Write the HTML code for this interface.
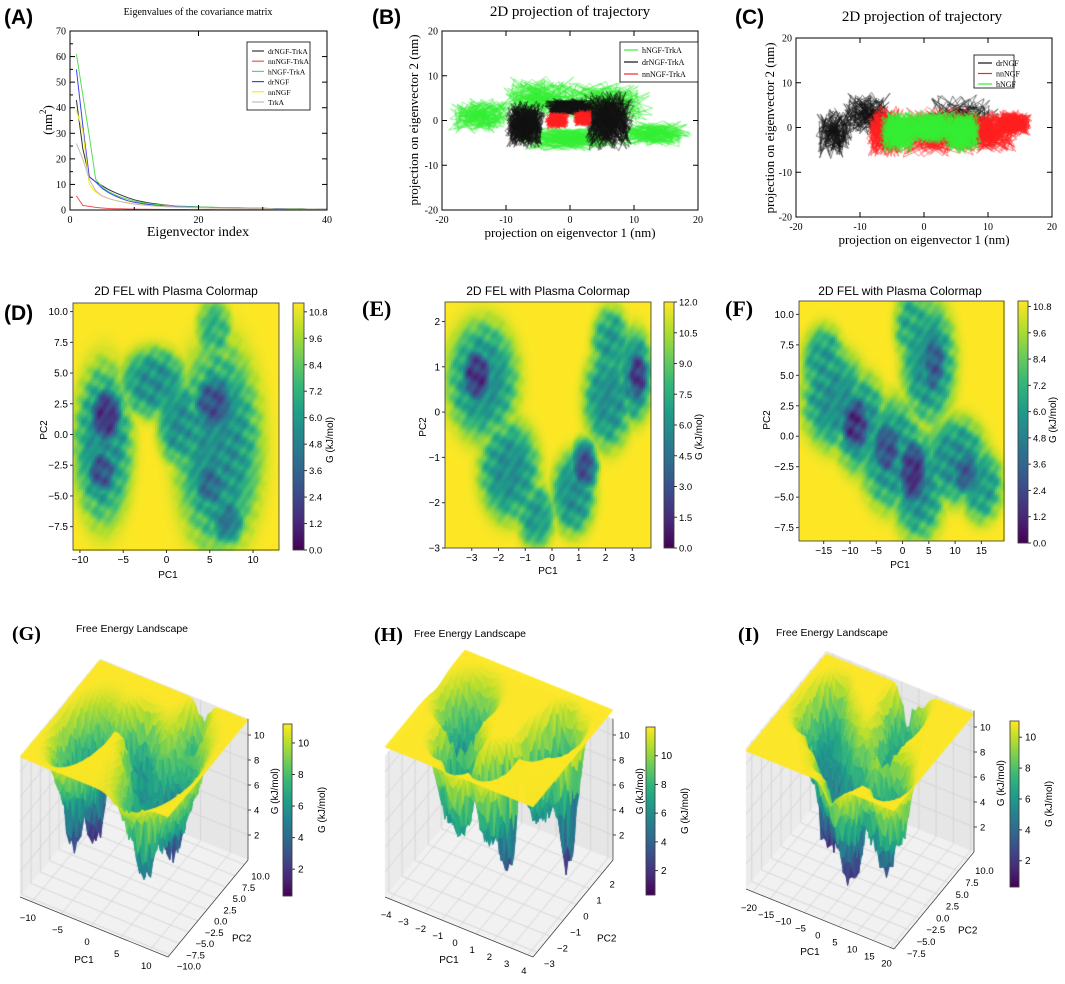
<!DOCTYPE html>
<html><head><meta charset="utf-8">
<style>
body{margin:0;background:#fff;width:1065px;height:984px;overflow:hidden;position:relative;font-family:"Liberation Sans",sans-serif}
canvas,svg{position:absolute;left:0;top:0}
.ser{font-family:"Liberation Serif",serif}
.lbl{font-weight:bold}
</style></head>
<body>
<canvas id="cv" width="1065" height="984"></canvas>
<svg id="sv" width="1065" height="984" xmlns="http://www.w3.org/2000/svg">
<text x="4" y="24" font-size="21" class="lbl">(A)</text>
<text x="372" y="24" font-size="21" class="lbl">(B)</text>
<text x="735" y="24" font-size="21" class="lbl">(C)</text>
<text x="4" y="320" font-size="21" class="lbl">(D)</text>
<text x="362" y="316" font-size="22" class="lbl ser">(E)</text>
<text x="725" y="316" font-size="22" class="lbl ser">(F)</text>
<text x="12" y="640" font-size="20" class="lbl ser">(G)</text>
<text x="374" y="641" font-size="20" class="lbl ser">(H)</text>
<text x="738" y="641" font-size="20" class="lbl ser">(I)</text>
<text x="198" y="15" font-size="10" text-anchor="middle" class="ser">Eigenvalues of the covariance matrix</text>
<text x="198" y="236" font-size="14" text-anchor="middle" class="ser">Eigenvector index</text>
<text x="0" y="0" font-size="13" text-anchor="middle" class="ser" transform="translate(52,120) rotate(-90)">(nm<tspan dy="-6" font-size="9">2</tspan><tspan dy="6">)</tspan></text>
<text x="570" y="16" font-size="15" text-anchor="middle" class="ser">2D projection of trajectory</text>
<text x="570" y="237" font-size="13" text-anchor="middle" class="ser">projection on eigenvector 1 (nm)</text>
<text x="0" y="0" font-size="13" text-anchor="middle" class="ser" transform="translate(418,120) rotate(-90)">projection on eigenvector 2 (nm)</text>
<text x="922" y="21" font-size="15" text-anchor="middle" class="ser">2D projection of trajectory</text>
<text x="924" y="244" font-size="13" text-anchor="middle" class="ser">projection on eigenvector 1 (nm)</text>
<text x="0" y="0" font-size="13" text-anchor="middle" class="ser" transform="translate(774,128) rotate(-90)">projection on eigenvector 2 (nm)</text>
<text x="176" y="295" font-size="12" text-anchor="middle">2D FEL with Plasma Colormap</text>
<text x="548" y="295" font-size="12" text-anchor="middle">2D FEL with Plasma Colormap</text>
<text x="900" y="295" font-size="12" text-anchor="middle">2D FEL with Plasma Colormap</text>
<text x="168" y="578" font-size="10" text-anchor="middle">PC1</text>
<text x="548" y="574" font-size="10" text-anchor="middle">PC1</text>
<text x="900" y="568" font-size="10" text-anchor="middle">PC1</text>
<text x="0" y="0" font-size="10" text-anchor="middle" transform="translate(47,430) rotate(-90)">PC2</text>
<text x="0" y="0" font-size="10" text-anchor="middle" transform="translate(426,427) rotate(-90)">PC2</text>
<text x="0" y="0" font-size="10" text-anchor="middle" transform="translate(770,420) rotate(-90)">PC2</text>
<text x="0" y="0" font-size="10" text-anchor="middle" transform="translate(333,440) rotate(-90)">G (kJ/mol)</text>
<text x="0" y="0" font-size="10" text-anchor="middle" transform="translate(702,437) rotate(-90)">G (kJ/mol)</text>
<text x="0" y="0" font-size="10" text-anchor="middle" transform="translate(1056,420) rotate(-90)">G (kJ/mol)</text>
<text x="132" y="632" font-size="10.5" text-anchor="middle">Free Energy Landscape</text>
<text x="470" y="637" font-size="10.5" text-anchor="middle">Free Energy Landscape</text>
<text x="832" y="636" font-size="10.5" text-anchor="middle">Free Energy Landscape</text>
</svg>
<script>
// ---------- Panel A data ----------
const eigIndex = Array.from({length:40},(_,i)=>i+1);
const eigDrNGFTrkA=[43,24,13,11,9.5,8,6.8,5.8,4.8,4,3.4,2.9,2.5,2.2,1.9,1.7,1.5,1.4,1.3,1.2,1.1,1.0,0.95,0.9,0.85,0.8,0.75,0.7,0.7,0.7,0.6,0.55,0.5,0.5,0.45,0.45,0.4,0.4,0.35,0.3];
const eigNnNGFTrkA=[5.5,1.8,1.4,1.0,0.8,0.6,0.5,0.45,0.4,0.35,0.3,0.3,0.25,0.25,0.2,0.2,0.2,0.2,0.15,0.15,0.15,0.15,0.12,0.12,0.12,0.1,0.1,0.1,0.1,0.1,0.1,0.1,0.08,0.08,0.08,0.08,0.08,0.08,0.08,0.08];
const eigHNGFTrkA=[61,45,29,12,9,7.2,6,5,4.2,3.5,3,2.6,2.2,2,1.8,1.6,1.5,1.4,1.3,1.2,1.1,1.05,1,0.95,0.9,0.85,0.8,0.75,0.7,0.65,0.6,0.55,0.5,0.5,0.45,0.45,0.4,0.35,0.3,0.3];
const eigDrNGF=[55,33,13,11,8.5,6.8,5.5,4.5,3.6,3,2.6,2.2,1.9,1.7,1.5,1.4,1.3,1.2,1.1,1.0,0.95,0.9,0.85,0.8,0.75,0.7,0.65,0.6,0.55,0.5,0.5,0.45,0.45,0.4,0.4,0.35,0.35,0.3,0.3,0.3];
const eigNnNGF=[39,31,10,7,5.5,4.5,3.8,3.3,2.8,2.4,2.1,1.8,1.6,1.4,1.3,1.2,1.1,1,0.95,0.9,0.85,0.8,0.75,0.7,0.65,0.6,0.55,0.5,0.5,0.45,0.45,0.4,0.4,0.35,0.35,0.3,0.3,0.3,0.25,0.25];
const eigTrkA=[26,20,12,7.5,5.5,4.5,3.8,3.2,2.7,2.3,2,1.8,1.6,1.4,1.3,1.2,1.1,1,0.95,0.9,0.85,0.8,0.75,0.7,0.65,0.6,0.55,0.5,0.5,0.45,0.45,0.4,0.4,0.35,0.35,0.3,0.3,0.3,0.25,0.25];
const seriesA=[["drNGF-TrkA",eigDrNGFTrkA,"#333333"],["nnNGF-TrkA",eigNnNGFTrkA,"#ee5555"],["hNGF-TrkA",eigHNGFTrkA,"#55dd55"],["drNGF",eigDrNGF,"#4040f0"],["nnNGF",eigNnNGF,"#f0f020"],["TrkA",eigTrkA,"#ccb8b8"]];
const ticksAX=[0,20,40], ticksAY=[0,10,20,30,40,50,60,70];

// ---------- Panels B/C: trajectory cluster regions [cx,cy,rx,ry] ----------
const trajB_h=[[-14,1,5,4],[-5,5,6,5],[5,4,8,5],[13,-3,6,3],[0,-4,8,3]];
const trajB_dr=[[-7,-1,3.2,5.5],[6,0,4,7],[0,3,4,2]];
const trajB_nn=[[-2,0,2,2],[2,0.5,1.5,2]];
const trajC_dr=[[-14,-1,3,6],[-9,3,4,5],[6,1,6,7]];
const trajC_nn=[[-6,-1,3,6],[2,-1,7,6],[10,-1,5,5],[14,1,3,3]];
const trajC_h=[[-4,-1,3,5],[1,0,4,4],[6,-1,3,5]];
const ticksTraj=[-20,-10,0,10,20];

// ---------- FEL wells [cx,cy,halfWidthX,halfWidthY,depth] ----------
const wellsD=[[-7.3,-0.8,3.3,6.5,0.5],[-1.5,4.2,3.8,2.8,0.5],[6,-1,4.8,8.3,0.5],[1.5,1,2.5,3.5,0.5],[5.5,8.5,2,2.5,0.35],[-7,1.5,2,2.5,0.85],[-7.5,-3,1.8,2,0.75],[5.5,2.5,2.5,2.5,0.75],[5,-4,2,2.2,0.65],[7,-7,2,2,0.6]];
const wellsE=[[-2.6,0.7,1.3,1.3,0.5],[-1.6,-1.3,1.1,1.1,0.5],[-0.6,-2.3,0.7,0.7,0.45],[0.8,-1.8,0.8,0.9,0.5],[2.1,0.3,0.9,1.1,0.5],[2.2,1.5,0.7,0.8,0.45],[3.1,0.8,0.65,1.0,0.55],[-2.8,0.8,0.6,0.65,0.85],[1.2,-1.2,0.5,0.6,0.75],[3.2,0.8,0.4,0.6,0.85]];
const wellsF=[[-13,3,6,4,0.5],[-8,1,5,4,0.5],[-2,-1.5,6,4.5,0.5],[3,-4,5,4.5,0.5],[10,-2,6,3.5,0.5],[15,-4,4,3,0.45],[5,6,5,5,0.5],[2,9,3.5,3,0.4],[-15,6,4,3,0.45],[-9,1,3,2.5,0.85],[-3,-1,3,2.5,0.75],[2,-3,3,3,0.85],[12,-3,3,2,0.7],[6,6,2.5,3,0.7]];
const cbTicksD=[0,1.2,2.4,3.6,4.8,6.0,7.2,8.4,9.6,10.8];
const cbTicksE=[0,1.5,3.0,4.5,6.0,7.5,9.0,10.5,12.0];
const cbTicksF=[0,1.2,2.4,3.6,4.8,6.0,7.2,8.4,9.6,10.8];
const xTicksD=[-10,-5,0,5,10], yTicksD=[-7.5,-5,-2.5,0,2.5,5,7.5,10];
const xTicksE=[-3,-2,-1,0,1,2,3], yTicksE=[-3,-2,-1,0,1,2];
const xTicksF=[-15,-10,-5,0,5,10,15], yTicksF=[-7.5,-5,-2.5,0,2.5,5,7.5,10];

const NS='http://www.w3.org/2000/svg';
const sv=document.getElementById('sv');
const cv=document.getElementById('cv');
const ctx=cv.getContext('2d');
function mk(tag,attrs,txt){const e=document.createElementNS(NS,tag);for(const k in attrs)e.setAttribute(k,attrs[k]);if(txt!==undefined)e.textContent=txt;sv.appendChild(e);return e;}
const VS=[[68,1,84],[72,40,120],[62,74,137],[49,104,142],[38,130,142],[31,158,137],[53,183,121],[109,205,89],[180,222,44],[253,231,37]];
function vir(t){t=Math.max(0,Math.min(1,t));const p=t*9,i=Math.min(8,Math.floor(p)),f=p-i,a=VS[i],b=VS[i+1];return 'rgb('+Math.round(a[0]+(b[0]-a[0])*f)+','+Math.round(a[1]+(b[1]-a[1])*f)+','+Math.round(a[2]+(b[2]-a[2])*f)+')';}
// surface roughness texture (visual only)
function rough(u,v){return 0.55*Math.sin(u*113+v*37)*Math.cos(v*91-u*19)+0.3*Math.sin(u*57+v*149)+0.25*Math.cos(u*211-v*173);}
function field(W,x,y,g,u,v){let F=0;for(const w of W){const dx=(x-w[0])/w[2],dy=(y-w[1])/w[3],q=dx*dx+dy*dy;F=Math.max(F,w[4]*Math.exp(-q*q));}
 let G=g*(1-F); if(F>0.06)G+=1.4*rough(u,v)*Math.min(1,F*3); return Math.max(0,Math.min(g,G));}
function fmt(v){return v<0?'\u2212'+Math.abs(v):String(v);}

// ---------- Panel A ----------
(function(){
 const L=70,R=327,T=31,B=210;
 const sx=v=>L+(v-0)/40*(R-L), sy=v=>B-(v/70)*(B-T);
 for(const s of seriesA){
  const pts=eigIndex.map((x,i)=>sx(x).toFixed(1)+','+sy(s[1][i]).toFixed(1)).join(' ');
  const pl=mk('polyline',{points:pts,fill:'none',stroke:s[2],'stroke-width':1});
  
  
 }
 const fr=mk('rect',{x:L,y:T,width:R-L,height:B-T,fill:'none',stroke:'#000','stroke-width':1});
 
 
 for(const t of ticksAX){const x=sx(t);mk('line',{x1:x,x2:x,y1:B,y2:B-5,stroke:'#000'});mk('line',{x1:x,x2:x,y1:T,y2:T+5,stroke:'#000'});
  const tx=mk('text',{x:x,y:B+13,'font-size':10,'text-anchor':'middle',class:'ser'},String(t));
  
  }
 for(const t of [10,30]){const x=sx(t);mk('line',{x1:x,x2:x,y1:B,y2:B-3,stroke:'#000'});}
 for(const t of ticksAY){const y=sy(t);mk('line',{x1:L,x2:L+5,y1:y,y2:y,stroke:'#000'});mk('line',{x1:R,x2:R-5,y1:y,y2:y,stroke:'#000'});
  if(t<70){mk('line',{x1:L,x2:L+3,y1:sy(t+5),y2:sy(t+5),stroke:'#000'});}
  const tx=mk('text',{x:L-4,y:y+3.5,'font-size':10,'text-anchor':'end',class:'ser'},String(t));
  
  }
 const lg=mk('rect',{x:247,y:42,width:63,height:68,fill:'#fff',stroke:'#000','stroke-width':0.8});
 
 
 seriesA.forEach((s,i)=>{const y=51+i*10.2;mk('line',{x1:252,x2:264,y1:y,y2:y,stroke:s[2],'stroke-width':1.2});
  const tx=mk('text',{x:268,y:y+3,'font-size':7.5,class:'ser'},s[0]);
  
  });
})();

// ---------- Panels B/C ----------
function trajPanel(L,R,T,B,groups,legend,key){
 const sx=v=>L+(v+20)/40*(R-L), sy=v=>B-(v+20)/40*(B-T);
 ctx.save();ctx.beginPath();ctx.rect(L,T,R-L,B-T);ctx.clip();
 groups.forEach((g,gi)=>{
  ctx.strokeStyle=g[1];ctx.lineWidth=0.55;
  g[0].forEach((c,ci)=>{
   ctx.beginPath();
   const n=g[2];
   for(let k=0;k<n;k++){const t=k*0.9+ci*13+gi*7;
    const ax=0.55*Math.sin(1.73*t)+0.3*Math.sin(0.21*t+ci)+0.15*Math.sin(5.3*t);
    const ay=0.55*Math.sin(2.31*t+1)+0.3*Math.cos(0.17*t+gi)+0.15*Math.sin(4.7*t+2);
    const x=c[0]+c[2]*ax, y=c[1]+c[3]*ay;
    if(k===0)ctx.moveTo(sx(x),sy(y));else ctx.lineTo(sx(x),sy(y));}
   ctx.stroke();});
 });
 ctx.restore();
 const fr=mk('rect',{x:L,y:T,width:R-L,height:B-T,fill:'none',stroke:'#000','stroke-width':1});
 
 
 for(const t of ticksTraj){const x=sx(t),y=sy(t);
  mk('line',{x1:x,x2:x,y1:B,y2:B-5,stroke:'#000'});mk('line',{x1:x,x2:x,y1:T,y2:T+5,stroke:'#000'});
  mk('line',{x1:L,x2:L+5,y1:y,y2:y,stroke:'#000'});mk('line',{x1:R,x2:R-5,y1:y,y2:y,stroke:'#000'});
  const a=mk('text',{x:x,y:B+13,'font-size':10,'text-anchor':'middle',class:'ser'},String(t));
  
  
  const b=mk('text',{x:L-4,y:y+3.5,'font-size':10,'text-anchor':'end',class:'ser'},String(t));
  
  }
 const lx=legend.x, ly=legend.y;
 const lg=mk('rect',{x:lx,y:ly,width:legend.w,height:legend.h,fill:'#fff',stroke:'#000','stroke-width':0.8});
 
 
 legend.items.forEach((it,i)=>{const y=ly+8+i*legend.dy;mk('line',{x1:lx+4,x2:lx+18,y1:y,y2:y,stroke:it[1],'stroke-width':1.2});
  const tx=mk('text',{x:lx+22,y:y+3,'font-size':8,class:'ser'},it[0]);
  
  });
}
trajPanel(442,698,31,210,[[trajB_h,'#33ee33',260],[trajB_dr,'#111',520],[trajB_nn,'#ff2020',360]],{x:620,y:42,w:78,h:40,dy:12,items:[['hNGF-TrkA','#33ee33'],['drNGF-TrkA','#111'],['nnNGF-TrkA','#ff2020']]},'b');
trajPanel(796,1052,38,217,[[trajC_dr,'#111',200],[trajC_nn,'#ff2020',420],[trajC_h,'#33ee33',520]],{x:974,y:55,w:40,h:33,dy:10.5,items:[['drNGF','#111'],['nnNGF','#ff2020'],['hNGF','#33ee33']]},'c');

// ---------- Heatmaps D/E/F ----------
function heat(c){
 const {L,R,T,B,ext,W,g,cb,cbt,xt,yt,key,fmtY}=c;
 const dx=v=>L+(v-ext[0])/(ext[1]-ext[0])*(R-L), dy=v=>B-(v-ext[2])/(ext[3]-ext[2])*(B-T);
 for(let px=L;px<R;px+=2)for(let py=T;py<B;py+=2){
  const u=(px+1-L)/(R-L), v=(B-py-1)/(B-T);
  const x=ext[0]+u*(ext[1]-ext[0]), y=ext[2]+v*(ext[3]-ext[2]);
  ctx.fillStyle=vir(field(W,x,y,g,u*0.6,v*0.6)/c.cmax);ctx.fillRect(px,py,2,2);}
 for(let py=cb.y;py<cb.y+cb.h;py++){ctx.fillStyle=vir(1-(py-cb.y)/cb.h);ctx.fillRect(cb.x,py,cb.w,1);}
 const fr=mk('rect',{x:L,y:T,width:R-L,height:B-T,fill:'none',stroke:'#333','stroke-width':0.8});
 
 
 const cf=mk('rect',{x:cb.x,y:cb.y,width:cb.w,height:cb.h,fill:'none',stroke:'#333','stroke-width':0.8});
 
 
 for(const t of xt){const x=dx(t);mk('line',{x1:x,x2:x,y1:B,y2:B+3,stroke:'#333'});
  const a=mk('text',{x:x,y:B+13,'font-size':10,'text-anchor':'middle'},fmt(t));
  
  }
 for(const t of yt){const y=dy(t);mk('line',{x1:L-3,x2:L,y1:y,y2:y,stroke:'#333'});
  const s=fmtY?t.toFixed(1):String(t);
  const a=mk('text',{x:L-5,y:y+3.5,'font-size':10,'text-anchor':'end'},s.replace('-','\u2212'));
  
  }
 for(const t of cbt){const y=cb.y+cb.h-t/c.cmax*cb.h;mk('line',{x1:cb.x+cb.w,x2:cb.x+cb.w+3,y1:y,y2:y,stroke:'#333'});
  const a=mk('text',{x:cb.x+cb.w+5,y:y+3.5,'font-size':9.5},t.toFixed(1));
  
  }
}
heat({L:73,R:279,T:303,B:550,ext:[-10.8,13.0,-9.4,10.7],W:wellsD,g:11.2,cmax:11.2,cb:{x:293,y:303,w:11,h:247},cbt:cbTicksD,xt:xTicksD,yt:yTicksD,key:'d',fmtY:true});
heat({L:445,R:651,T:302,B:548,ext:[-4.0,3.7,-3.0,2.43],W:wellsE,g:12,cmax:12,cb:{x:664,y:302,w:10,h:246},cbt:cbTicksE,xt:xTicksE,yt:yTicksE,key:'e',fmtY:false});
heat({L:799,R:1004,T:301,B:541,ext:[-19.7,19.3,-8.6,11.1],W:wellsF,g:11.05,cmax:11.05,cb:{x:1018,y:301,w:10,h:242},cbt:cbTicksF,xt:xTicksF,yt:yTicksF,key:'f',fmtY:true});

// ---------- 3D surfaces G/H/I ----------
function surf(c){
 const {ox,oy,ext,W,g,key}=c, Hb=11.3, N=48, vmin=0.3;
 const P=(u,v,z)=>[ox+148*u+80*v, oy+60*u-97*v-12.5*z];
 const poly=(pts,fill,stroke,lw)=>{ctx.beginPath();pts.forEach((p,i)=>i?ctx.lineTo(p[0],p[1]):ctx.moveTo(p[0],p[1]));ctx.closePath();if(fill){ctx.fillStyle=fill;ctx.fill();}if(stroke){ctx.strokeStyle=stroke;ctx.lineWidth=lw||0.6;ctx.stroke();}};
 poly([P(0,0,0),P(1,0,0),P(1,1,0),P(0,1,0)],'#f1f1f1');
 poly([P(0,0,0),P(0,1,0),P(0,1,Hb),P(0,0,Hb)],'#ebebeb');
 poly([P(0,1,0),P(1,1,0),P(1,1,Hb),P(0,1,Hb)],'#e6e6e6');
 const uT=c.xt.map(t=>(t-ext[0])/(ext[1]-ext[0])), vT=c.yt.map(t=>(t-ext[2])/(ext[3]-ext[2]));
 const line=(a,b)=>{ctx.beginPath();ctx.moveTo(a[0],a[1]);ctx.lineTo(b[0],b[1]);ctx.strokeStyle='#d2d2d2';ctx.lineWidth=0.8;ctx.stroke();};
 for(const u of uT){line(P(u,0,0),P(u,1,0));line(P(u,1,0),P(u,1,Hb));}
 for(const v of vT){line(P(0,v,0),P(1,v,0));line(P(0,v,0),P(0,v,Hb));}
 for(const z of c.zt){line(P(0,0,z),P(0,1,z));line(P(0,1,z),P(1,1,z));}
 const Z=[];for(let i=0;i<=N;i++){Z.push([]);for(let j=0;j<=N;j++){const u=i/N,v=j/N,x=ext[0]+u*(ext[1]-ext[0]),y=ext[2]+v*(ext[3]-ext[2]);Z[i].push(field(W,x,y,g,u*0.9,v*0.9));}}
 const cells=[];for(let i=0;i<N;i++)for(let j=0;j<N;j++)cells.push([i,j]);
 cells.sort((a,b)=>(b[1]-b[0])-(a[1]-a[0]));
 for(const [i,j] of cells){const u0=i/N,u1=(i+1)/N,v0=j/N,v1=(j+1)/N;
  const zs=[Z[i][j],Z[i+1][j],Z[i+1][j+1],Z[i][j+1]];const za=(zs[0]+zs[1]+zs[2]+zs[3])/4;
  const col=vir((za-vmin)/(g-vmin));
  poly([P(u0,v0,zs[0]),P(u1,v0,zs[1]),P(u1,v1,zs[2]),P(u0,v1,zs[3])],col,col,0.5);}
 const ax=(a,b)=>mk('line',{x1:a[0],y1:a[1],x2:b[0],y2:b[1],stroke:'#444','stroke-width':0.8});
 ax(P(0,0,0),P(1,0,0));ax(P(1,0,0),P(1,1,0));ax(P(1,1,0),P(1,1,Hb));
 c.xt.forEach((t,k)=>{const p=P(uT[k],0,0);const a=mk('text',{x:p[0]-4,y:p[1]+19,'font-size':9.5,'text-anchor':'middle'},fmt(t));
  
  });
 c.yt.forEach((t,k)=>{const p=P(1,vT[k],0);const s=c.fy?t.toFixed(1):String(t);const a=mk('text',{x:p[0]+7,y:p[1]+15,'font-size':9.5},s.replace('-','\u2212'));
  
  });
 c.zt.forEach(t=>{const p=P(1,1,t);mk('line',{x1:p[0],x2:p[0]+3,y1:p[1],y2:p[1],stroke:'#444'});const a=mk('text',{x:p[0]+6,y:p[1]+3.5,'font-size':9.5},String(t));
  
  });
 const pc1=P(0.5,0,0), pc2=P(1,0.45,0), zl=P(1,1,5.5);
 const t1=mk('text',{x:pc1[0]-10,y:pc1[1]+36,'font-size':10,'text-anchor':'middle'},'PC1');
 
 
 const t2=mk('text',{x:pc2[0]+28,y:pc2[1]+28,'font-size':10},'PC2');
 
 
 const t3=mk('text',{x:0,y:0,'font-size':10,'text-anchor':'middle',transform:'translate('+(zl[0]+30)+','+zl[1]+') rotate(-90)'},'G (kJ/mol)');
 
 
 const cb=c.cb;
 for(let py=cb.y;py<cb.y+cb.h;py++){ctx.fillStyle=vir(1-(py-cb.y)/cb.h);ctx.fillRect(cb.x,py,cb.w,1);}
 const cf=mk('rect',{x:cb.x,y:cb.y,width:cb.w,height:cb.h,fill:'none',stroke:'#333','stroke-width':0.8});
 
 
 c.zt.forEach(t=>{const y=cb.y+cb.h-(t-vmin)/(g-vmin)*cb.h;mk('line',{x1:cb.x+cb.w,x2:cb.x+cb.w+3,y1:y,y2:y,stroke:'#333'});
  const a=mk('text',{x:cb.x+cb.w+6,y:y+3.5,'font-size':10},String(t));
  
  });
 const t4=mk('text',{x:0,y:0,'font-size':10,'text-anchor':'middle',transform:'translate('+(cb.x+cb.w+33)+','+(cb.y+cb.h/2)+') rotate(-90)'},'G (kJ/mol)');
 
 
}
surf({ox:20,oy:897,ext:[-12,13,-10.5,11],W:wellsD,g:11.2,key:'g',xt:[-10,-5,0,5,10],yt:[-10,-7.5,-5,-2.5,0,2.5,5,7.5,10],fy:true,zt:[2,4,6,8,10],cb:{x:283,y:724,w:9,h:172}});
surf({ox:385,oy:897,ext:[-4.3,4.3,-3.3,2.8],W:wellsE,g:12,key:'h',xt:[-4,-3,-2,-1,0,1,2,3,4],yt:[-3,-2,-1,0,1,2],fy:false,zt:[2,4,6,8,10],cb:{x:646,y:727,w:9,h:168}});
surf({ox:746,oy:889,ext:[-22,21,-9,11.5],W:wellsF,g:11.05,key:'i',xt:[-20,-15,-10,-5,0,5,10,15,20],yt:[-7.5,-5,-2.5,0,2.5,5,7.5,10],fy:true,zt:[2,4,6,8,10],cb:{x:1010,y:721,w:9,h:166}});
</script>
</body></html>
